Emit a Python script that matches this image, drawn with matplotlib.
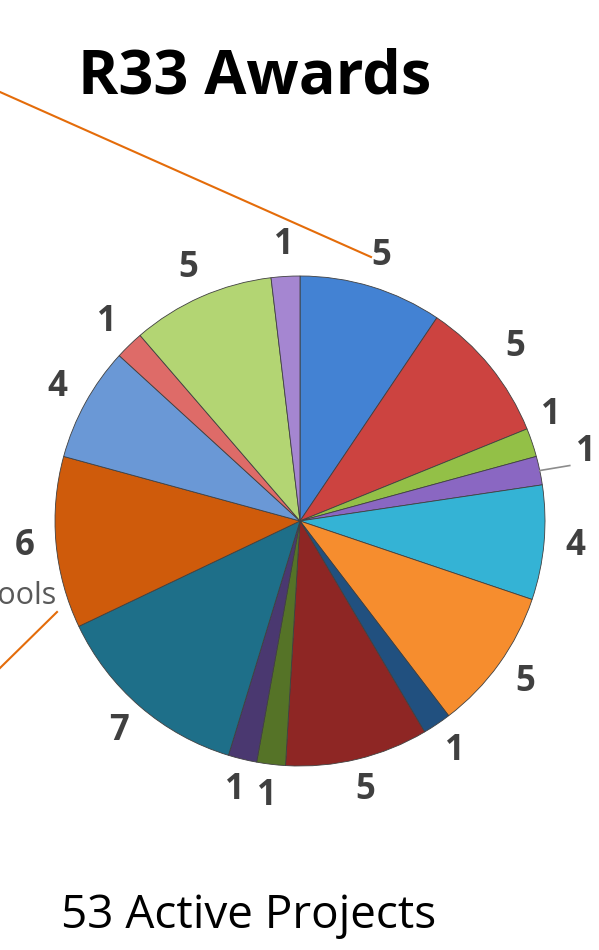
import numpy as np
import matplotlib.pyplot as plt

# DATA (clockwise from 12 o'clock)
counts = [5, 5, 1, 1, 4, 5, 1, 5, 1, 1, 7, 6, 4, 1, 5, 1]
colors = ['#4382D3', '#CC4340', '#93C047', '#8A67C2', '#34B3D5', '#F68D2E',
          '#21507F', '#8E2624', '#557327', '#4A3870', '#1E6F89', '#CF5B0B',
          '#6A98D6', '#DE6B68', '#B3D573', '#A586D1']
title = 'R33 Awards'
subtitle = '53 Active Projects'

W, H = 599, 950
fig = plt.figure(figsize=(W / 100, H / 100), dpi=100)
ax = fig.add_axes([0, 0, 1, 1])

cx, cy, r = 300, H - 521, 245

wedges, texts = ax.pie(
    counts, colors=colors, labels=[str(c) for c in counts],
    startangle=90, counterclock=False, center=(cx, cy), radius=r,
    labeldistance=1.13, frame=True,
    wedgeprops=dict(edgecolor='#404040', linewidth=0.6),
    textprops=dict(fontsize=25, fontweight='bold', color='#404040',
                   family='Open Sans'),
)
ax.set_xlim(0, W)
ax.set_ylim(0, H)
ax.axis('off')
ax.set_aspect('equal')

for t in texts:
    t.set_ha('center')
    t.set_va('center')

# two small slices on the right: labels nudged apart, one with a leader line
texts[2].set_position((551, H - 415))
w = wedges[3]
mid = np.deg2rad((w.theta1 + w.theta2) / 2)
ex, ey = cx + r * np.cos(mid), cy + r * np.sin(mid)
texts[3].set_position((586, H - 452))
ax.plot([ex, ex + 30], [ey, ey + 5], color='#8c8c8c', lw=1.2)

# title and caption
fig.text(255 / W, 1 - 78 / H, title, ha='center', va='center',
         fontsize=44, fontweight='bold', color='black', family='Open Sans')
fig.text(249 / W, 1 - 916 / H, subtitle, ha='center', va='center',
         fontsize=33, color='black', family='Open Sans')

# pieces of the slide behind the chart
ax.plot([0, 371], [H - 92, H - 257], color='#E46C0A', lw=1.5)
ax.plot([57, 0], [H - 612, H - 668], color='#E46C0A', lw=1.5)
ax.text(57, H - 596, 'Schools', ha='right', va='center', fontsize=22,
        color='#595959', family='Open Sans')

fig.savefig('out.png', dpi=100)
